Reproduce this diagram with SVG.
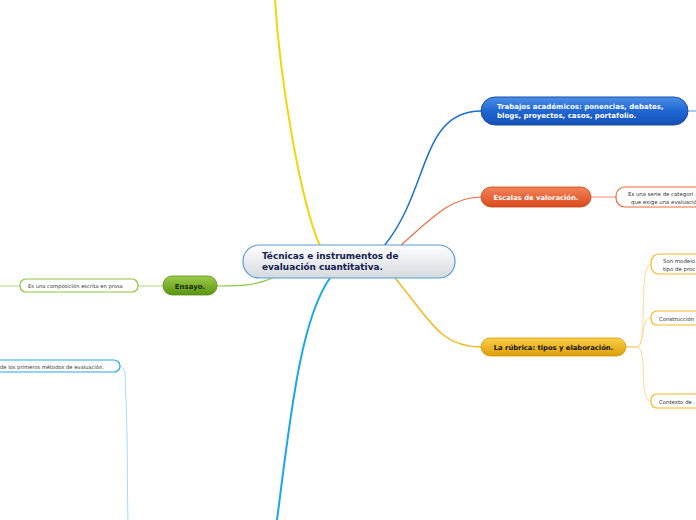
<svg xmlns="http://www.w3.org/2000/svg" width="696" height="520" viewBox="0 0 696 520">
<style>
.t{font-family:"DejaVu Sans",Verdana,sans-serif}
.b{font-weight:bold}
.c{fill:none;stroke-linecap:round}
</style>
<defs>
<linearGradient id="gC" x1="0" y1="0" x2="0" y2="1"><stop offset="0" stop-color="#ffffff"/><stop offset="1" stop-color="#d5dade"/></linearGradient>
<linearGradient id="gB" x1="0" y1="0" x2="0" y2="1"><stop offset="0" stop-color="#4a8fe6"/><stop offset="0.5" stop-color="#2066d2"/><stop offset="1" stop-color="#1550b4"/></linearGradient>
<linearGradient id="gO" x1="0" y1="0" x2="0" y2="1"><stop offset="0" stop-color="#f4845a"/><stop offset="1" stop-color="#d84a1c"/></linearGradient>
<linearGradient id="gY" x1="0" y1="0" x2="0" y2="1"><stop offset="0" stop-color="#fbcf4a"/><stop offset="1" stop-color="#dc9e08"/></linearGradient>
<linearGradient id="gG" x1="0" y1="0" x2="0" y2="1"><stop offset="0" stop-color="#9ccc4a"/><stop offset="1" stop-color="#5a9412"/></linearGradient>
</defs>
<g id="connectors">
<path class="c" d="M320,246 C300,200 280,80 275,0" stroke="#f2d70c" stroke-width="2"/>
<path class="c" d="M330,278 C300,320 290,420 277,520" stroke="#1aa8ea" stroke-width="2"/>
<path class="c" d="M384,246 C430,190 420,111 481,111" stroke="#1c6fd6" stroke-width="1.5"/>
<path class="c" d="M688,111 L696,111" stroke="#5a9be6" stroke-width="1"/>
<path class="c" d="M400,246 C430,220 450,197 481,197" stroke="#f06a3d" stroke-width="1.2"/>
<path class="c" d="M591,197 L616,197" stroke="#f4906a" stroke-width="1"/>
<path class="c" d="M395,278 C430,320 440,347 481,347" stroke="#f5b820" stroke-width="1.5"/>
<path class="c" d="M626,347 L638,347 C648,340 638,264 651,264" stroke="#fad27a" stroke-width="0.8"/>
<path class="c" d="M626,347 L638,347 C646,340 640,318 651,318" stroke="#fad27a" stroke-width="0.8"/>
<path class="c" d="M626,347 L638,347 C648,354 638,401 651,401" stroke="#fad27a" stroke-width="0.8"/>
<path class="c" d="M275,277 C255,286 240,286 217,286" stroke="#8dc63f" stroke-width="1.2"/>
<path class="c" d="M163,286 L138,286" stroke="#b2d77a" stroke-width="1"/>
<path class="c" d="M20,286 L0,286" stroke="#b2d77a" stroke-width="1"/>
<path class="c" d="M120,366 C128,370 124,380 126,400 C128,450 127,490 128,520" stroke="#8ad6f6" stroke-width="0.8"/>
</g>
<g id="central">
<rect x="243" y="245" width="212" height="33" rx="16" fill="url(#gC)" stroke="#5b9bd5" stroke-width="1.2"/>
<text class="t b" x="262" y="259" font-size="8.9" fill="#132050">Técnicas e instrumentos de</text>
<text class="t b" x="262" y="270" font-size="8.9" fill="#132050">evaluación cuantitativa.</text>
</g>
<g id="trabajos">
<rect x="481" y="97" width="207" height="28" rx="14" fill="url(#gB)" stroke="#1a4fa8" stroke-width="1"/>
<text class="t b" x="497" y="109" font-size="7" fill="#ffffff">Trabajos académicos: ponencias, debates,</text>
<text class="t b" x="497" y="118" font-size="7" fill="#ffffff">blogs, proyectos, casos, portafolio.</text>
</g>
<g id="escalas">
<rect x="481" y="187" width="110" height="20" rx="10" fill="url(#gO)" stroke="#c84418" stroke-width="0.8"/>
<text class="t b" x="536" y="200" font-size="6.8" fill="#ffffff" text-anchor="middle">Escalas de valoración.</text>
</g>
<g id="escalas-def">
<rect x="616" y="187" width="96" height="20" rx="9" fill="#ffffff" stroke="#f06a3d" stroke-width="1.2"/>
<text class="t" x="628" y="195.5" font-size="5.4" fill="#333333">Es una serie de categorí</text>
<text class="t" x="631" y="203.5" font-size="5.4" fill="#333333">que exige una evaluació</text>
</g>
<g id="rubrica">
<rect x="481" y="338" width="145" height="18" rx="9" fill="url(#gY)" stroke="#d49a08" stroke-width="0.8"/>
<text class="t b" x="553.5" y="350" font-size="6.8" fill="#111111" text-anchor="middle">La rúbrica: tipos y elaboración.</text>
</g>
<g id="rubrica-1">
<rect x="651" y="254" width="60" height="20" rx="8" fill="#ffffff" stroke="#f5b820" stroke-width="1.2"/>
<text class="t" x="663" y="262.5" font-size="5.4" fill="#333333">Son modelo</text>
<text class="t" x="663" y="270.5" font-size="5.4" fill="#333333">tipo de proc</text>
</g>
<g id="rubrica-2">
<rect x="651" y="311" width="60" height="14" rx="6" fill="#ffffff" stroke="#f5b820" stroke-width="1.2"/>
<text class="t" x="659" y="320.5" font-size="5.4" fill="#333333">Construcción</text>
</g>
<g id="rubrica-3">
<rect x="651" y="394" width="60" height="14" rx="6" fill="#ffffff" stroke="#f5b820" stroke-width="1.2"/>
<text class="t" x="659" y="403.5" font-size="5.4" fill="#333333">Contexto de .</text>
</g>
<g id="ensayo">
<rect x="163" y="276" width="54" height="19" rx="9" fill="url(#gG)" stroke="#5a8f16" stroke-width="0.8"/>
<text class="t b" x="190" y="288.5" font-size="7" fill="#1a2a08" text-anchor="middle">Ensayo.</text>
</g>
<g id="ensayo-def">
<rect x="20" y="279" width="118" height="13" rx="6" fill="#ffffff" stroke="#8dc63f" stroke-width="1.2"/>
<text class="t" x="28" y="288" font-size="5.2" fill="#333333">Es una composición escrita en prosa</text>
</g>
<g id="examen-def">
<rect x="-12" y="360" width="132" height="12" rx="6" fill="#ffffff" stroke="#29a9ea" stroke-width="1.2"/>
<text class="t" x="0" y="368.5" font-size="5.2" fill="#333333">de los primeros métodos de evaluación.</text>
</g>
</svg>
